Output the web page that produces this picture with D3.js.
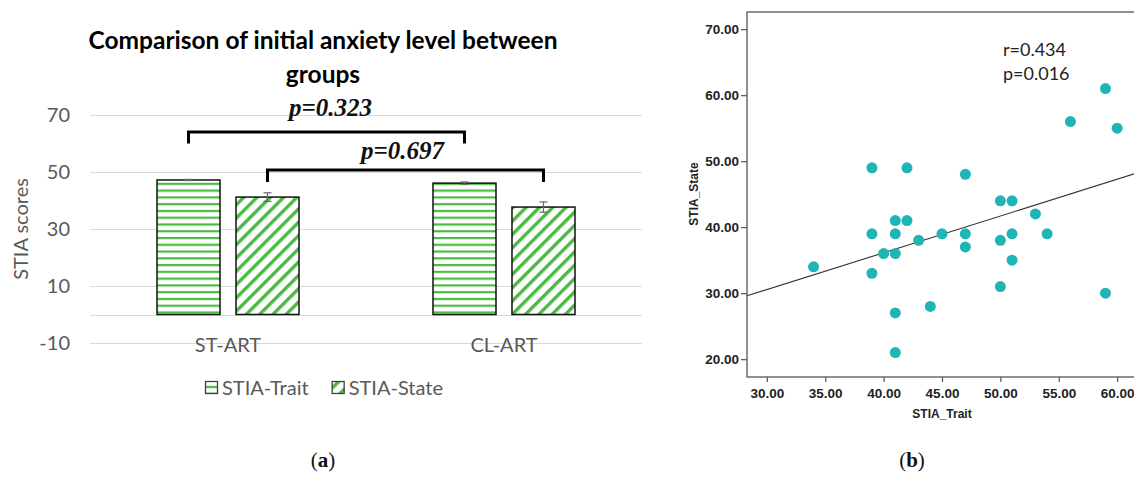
<!DOCTYPE html>
<meta charset="utf-8">
<script src="https://d3js.org/d3.v7.min.js"></script>
<style>
  body { margin: 0; background: #fff; }
</style>
<svg id="fig" width="1134" height="477"></svg>
<script>
// ---- panel (a): bar chart data
const groups = ["ST-ART", "CL-ART"];
const seriesNames = ["STIA-Trait", "STIA-State"];
const traitMeans = [47.2, 46.1];
const stateMeans = [41.2, 37.7];
const traitErrors = [0.2, 0.4];
const stateErrors = [1.5, 1.8];
const barTicks = [-10, 10, 30, 50, 70];
const pLabels = ["p=0.323", "p=0.697"];
const bracketTops = [64, 50.7];
const bracketEnds = [60, 46.5];
const pLabelLevels = [69.5, 54.5];

// ---- panel (b): scatter data
const traitScores = [39, 42, 47, 50, 51, 53, 56, 59, 60, 41, 42, 39, 41, 43, 45, 47, 47, 40, 41,
                     34, 39, 50, 51, 51, 54, 50, 59, 44, 41, 41];
const stateScores = [49, 49, 48, 44, 44, 42, 56, 61, 55, 41, 41, 39, 39, 38, 39, 39, 37, 36, 36,
                     34, 33, 38, 39, 35, 39, 31, 30, 28, 27, 21];
const scatterXTicks = [30, 35, 40, 45, 50, 55, 60];
const scatterYTicks = [20, 30, 40, 50, 60, 70];
const fitIntercept = 13.84;
const fitSlope = 0.557;
const corrText = ["r=0.434", "p=0.016"];

const svg = d3.select("#fig");
const green = "#4cb944";
const grey = "#595959";

// patterns for the bars
const defs = svg.append("defs");
const hz = defs.append("pattern").attr("id", "hz")
  .attr("patternUnits", "userSpaceOnUse").attr("width", 8).attr("height", 6.77);
hz.append("rect").attr("width", 8).attr("height", 6.77).attr("fill", "#fff");
hz.append("rect").attr("y", 0).attr("width", 8).attr("height", 2.2).attr("fill", green);

const dg = defs.append("pattern").attr("id", "dg")
  .attr("patternUnits", "userSpaceOnUse").attr("width", 9.4).attr("height", 10)
  .attr("patternTransform", "rotate(45)");
dg.append("rect").attr("width", 9.4).attr("height", 10).attr("fill", "#fff");
dg.append("rect").attr("x", 0).attr("width", 3.4).attr("height", 10).attr("fill", green);

const fills = {"STIA-Trait": "url(#hz)", "STIA-State": "url(#dg)"};

// ================= panel (a)
const y = d3.scaleLinear().domain([-10, 70]).range([343, 115]);
const x0 = d3.scaleBand().domain(groups).range([90, 642])
  .paddingInner(0.4855).paddingOuter(0.2428);
const x1 = d3.scaleBand().domain(seriesNames).range([0, x0.bandwidth()]).paddingInner(0.2025);

const a = svg.append("g").attr("font-family", "Lato, sans-serif");

// title
a.append("text").attr("x", 323).attr("y", 49).attr("text-anchor", "middle")
  .attr("font-size", 24.5).attr("font-weight", "bold").attr("fill", "#000")
  .text("Comparison of initial anxiety level between");
a.append("text").attr("x", 323).attr("y", 83).attr("text-anchor", "middle")
  .attr("font-size", 24.5).attr("font-weight", "bold").attr("fill", "#000")
  .text("groups");

// gridlines + zero axis
a.append("g").selectAll("line").data(barTicks.concat([0])).join("line")
  .attr("x1", 90).attr("x2", 642)
  .attr("y1", d => Math.round(y(d)) + 0.5).attr("y2", d => Math.round(y(d)) + 0.5)
  .attr("stroke", "#d9d9d9").attr("stroke-width", 1);

a.append("g").selectAll("text").data(barTicks).join("text")
  .attr("x", 70).attr("y", d => y(d)).attr("dy", "0.35em")
  .attr("text-anchor", "end").attr("font-size", 20).attr("fill", grey)
  .text(d => d);

a.append("text").attr("transform", "translate(28,229) rotate(-90)")
  .attr("text-anchor", "middle").attr("font-size", 20).attr("fill", grey)
  .text("STIA scores");

// bars
const barRows = groups.flatMap((g, i) => [
  {g, s: "STIA-Trait", v: traitMeans[i], e: traitErrors[i]},
  {g, s: "STIA-State", v: stateMeans[i], e: stateErrors[i]}
]);

a.append("g").selectAll("rect").data(barRows).join("rect")
  .attr("x", d => x0(d.g) + x1(d.s))
  .attr("y", d => y(d.v))
  .attr("width", x1.bandwidth())
  .attr("height", d => y(0) - y(d.v))
  .attr("fill", d => fills[d.s])
  .attr("stroke", "#111").attr("stroke-width", 1.5);

// error bars
const eb = a.append("g").attr("stroke", "#666").attr("stroke-width", 1.2);
barRows.forEach(d => {
  const cx = x0(d.g) + x1(d.s) + x1.bandwidth() / 2;
  eb.append("line").attr("x1", cx).attr("x2", cx).attr("y1", y(d.v + d.e)).attr("y2", y(d.v - d.e));
  eb.append("line").attr("x1", cx - 4).attr("x2", cx + 4).attr("y1", y(d.v + d.e)).attr("y2", y(d.v + d.e));
  eb.append("line").attr("x1", cx - 4).attr("x2", cx + 4).attr("y1", y(d.v - d.e)).attr("y2", y(d.v - d.e));
});

// category labels
a.append("g").selectAll("text").data(groups).join("text")
  .attr("x", d => x0(d) + x0.bandwidth() / 2).attr("y", 352)
  .attr("text-anchor", "middle").attr("font-size", 20).attr("fill", grey)
  .text(d => d);

// significance brackets
seriesNames.forEach((s, i) => {
  const xa = x0(groups[0]) + x1(s) + x1.bandwidth() / 2;
  const xb = x0(groups[1]) + x1(s) + x1.bandwidth() / 2;
  a.append("path")
    .attr("d", `M${xa},${y(bracketEnds[i])}V${y(bracketTops[i])}H${xb}V${y(bracketEnds[i])}`)
    .attr("fill", "none").attr("stroke", "#000").attr("stroke-width", 3);
  a.append("text").attr("x", (xa + xb) / 2 + (i === 0 ? 4 : -3)).attr("y", y(pLabelLevels[i]))
    .attr("text-anchor", "middle")
    .attr("font-family", "'Liberation Serif', 'Times New Roman', serif")
    .attr("font-style", "italic").attr("font-weight", "bold").attr("font-size", 25)
    .attr("fill", "#111").text(pLabels[i]);
});

// legend
const leg = a.append("g");
let lx = 205;
seriesNames.forEach(s => {
  leg.append("rect").attr("x", lx + 0.5).attr("y", 381.5).attr("width", 12).attr("height", 12)
    .attr("fill", fills[s]).attr("stroke", "#404040").attr("stroke-width", 1.3);
  const t = leg.append("text").attr("x", lx + 17).attr("y", 395)
    .attr("font-size", 20).attr("fill", grey).text(s);
  lx += 17 + t.node().getComputedTextLength() + 23;
});

// (a) caption
svg.append("text").attr("x", 323).attr("y", 467).attr("text-anchor", "middle")
  .attr("font-family", "'Liberation Serif', serif").attr("font-size", 21).attr("fill", "#111")
  .call(t => {
    t.append("tspan").text("(");
    t.append("tspan").attr("font-weight", "bold").text("a");
    t.append("tspan").text(")");
  });

// ================= panel (b)
const sx = d3.scaleLinear().domain([28.3, 61.7]).range([747, 1137]);
const sy = d3.scaleLinear().domain([17.3, 72.6]).range([377, 12]);
const b = svg.append("g").attr("font-family", "'Liberation Sans', Arial, sans-serif");

b.append("defs").append("clipPath").attr("id", "plotclip")
  .append("rect").attr("x", sx(28.3)).attr("y", sy(72.6))
  .attr("width", sx(61.7) - sx(28.3)).attr("height", sy(17.3) - sy(72.6));

const yAx = b.append("g").attr("transform", `translate(${sx(28.3)},0)`)
  .call(d3.axisLeft(sy).tickValues(scatterYTicks).tickFormat(d3.format(".2f"))
    .tickSize(6).tickPadding(2));
const xAx = b.append("g").attr("transform", `translate(0,${sy(17.3)})`)
  .call(d3.axisBottom(sx).tickValues(scatterXTicks).tickFormat(d3.format(".2f"))
    .tickSize(5).tickPadding(6));
[yAx, xAx].forEach(g => {
  g.select(".domain").remove();
  g.selectAll(".tick line").attr("stroke", "#555").attr("stroke-width", 1.2);
  g.selectAll(".tick text").attr("font-size", 13.5).attr("font-weight", "bold")
    .attr("font-family", "'Liberation Sans', Arial, sans-serif").attr("fill", "#222");
});

// frame
b.append("rect").attr("x", sx(28.3)).attr("y", sy(72.6))
  .attr("width", sx(61.7) - sx(28.3)).attr("height", sy(17.3) - sy(72.6))
  .attr("fill", "none").attr("stroke", "#555").attr("stroke-width", 1.3);

// fit line
b.append("line").attr("clip-path", "url(#plotclip)")
  .attr("x1", sx(28.3)).attr("y1", sy(fitIntercept + fitSlope * 28.3))
  .attr("x2", sx(61.7)).attr("y2", sy(fitIntercept + fitSlope * 61.7))
  .attr("stroke", "#333").attr("stroke-width", 1.1);

// points
b.append("g").selectAll("circle").data(traitScores).join("circle")
  .attr("cx", d => sx(d)).attr("cy", (d, i) => sy(stateScores[i]))
  .attr("r", 5.5).attr("fill", "#1fb5b5");

// r / p text
b.append("g").selectAll("text").data(corrText).join("text")
  .attr("x", 1003).attr("y", (d, i) => 56 + i * 24)
  .attr("font-family", "Lato, sans-serif").attr("font-size", 18).attr("fill", "#222")
  .text(d => d);

// axis titles
b.append("text").attr("x", 942).attr("y", 418).attr("text-anchor", "middle")
  .attr("font-size", 12).attr("font-weight", "bold").attr("fill", "#222").text("STIA_Trait");
b.append("text").attr("transform", "translate(698,194) rotate(-90)").attr("text-anchor", "middle")
  .attr("font-size", 12).attr("font-weight", "bold").attr("fill", "#222").text("STIA_State");

// (b) caption
svg.append("text").attr("x", 912).attr("y", 467).attr("text-anchor", "middle")
  .attr("font-family", "'Liberation Serif', serif").attr("font-size", 21).attr("fill", "#111")
  .call(t => {
    t.append("tspan").text("(");
    t.append("tspan").attr("font-weight", "bold").text("b");
    t.append("tspan").text(")");
  });
</script>
